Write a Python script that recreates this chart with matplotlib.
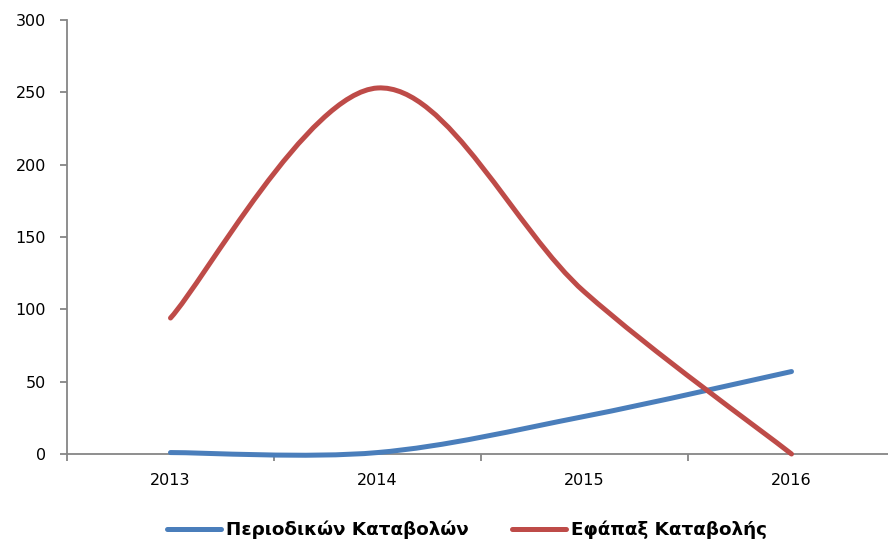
import matplotlib
matplotlib.use("Agg")
import matplotlib.pyplot as plt
from matplotlib.path import Path
from matplotlib.patches import PathPatch
from matplotlib.lines import Line2D

categories = ["2013", "2014", "2015", "2016"]
periodic = [1, 1, 26, 57]
lump_sum = [94, 253, 112, 0]
series_names = ["Περιοδικών Καταβολών", "Εφάπαξ Καταβολής"]
colors = ["#4a7ebb", "#be4b48"]
yticks = [0, 50, 100, 150, 200, 250, 300]

plt.rcParams['font.family'] = ['DejaVu Sans']

W, H = 888, 542
fig = plt.figure(figsize=(W / 100, H / 100), dpi=100)
ax = fig.add_axes([67 / W, (H - 454) / H, 828 / W, 434 / H])


def smooth_path(xs, ys):
    pts = list(zip(xs, ys))
    n = len(pts)
    verts = [pts[0]]
    codes = [Path.MOVETO]
    for i in range(n - 1):
        p0 = pts[max(i - 1, 0)]
        p1 = pts[i]
        p2 = pts[i + 1]
        p3 = pts[min(i + 2, n - 1)]
        c1 = (p1[0] + (p2[0] - p0[0]) / 6, p1[1] + (p2[1] - p0[1]) / 6)
        c2 = (p2[0] - (p3[0] - p1[0]) / 6, p2[1] - (p3[1] - p1[1]) / 6)
        verts += [c1, c2, p2]
        codes += [Path.CURVE4] * 3
    return Path(verts, codes)


xs = list(range(len(categories)))
for vals, col in zip([periodic, lump_sum], colors):
    patch = PathPatch(smooth_path(xs, vals), fill=False, edgecolor=col,
                      lw=3.6, capstyle='round', joinstyle='round', zorder=3)
    patch.set_clip_on(False)
    ax.add_patch(patch)

ax.set_xlim(-0.5, len(categories) - 0.5)
ax.set_ylim(0, 300)
ax.set_yticks(yticks)
ax.set_yticklabels([str(t) for t in yticks])
ax.set_xticks(xs)
ax.set_xticklabels(categories)
ax.set_xticks([x - 0.5 for x in range(len(categories) + 1)], minor=True)

for s in ["top", "right"]:
    ax.spines[s].set_visible(False)
for s in ["left", "bottom"]:
    ax.spines[s].set_color("#868686")
    ax.spines[s].set_linewidth(1.3)

ax.tick_params(axis='y', direction='out', length=5, width=1.3, color="#868686",
               labelsize=11.5, pad=10)
ax.tick_params(axis='x', which='major', length=0, labelsize=11.5, pad=14)
ax.tick_params(axis='x', which='minor', direction='out', length=5, width=1.3,
               color="#868686")

handles = [Line2D([], [], color=c, lw=3.6, solid_capstyle='round') for c in colors]
leg = fig.legend(handles, series_names, loc='center', bbox_to_anchor=(467 / W, 1 - 530 / H),
                 ncol=2, frameon=False, handlelength=2.95, handletextpad=0.27,
                 columnspacing=2.35, borderpad=0, prop={'weight': 'bold', 'size': 13.2})

fig.savefig("out.png", dpi=100)
